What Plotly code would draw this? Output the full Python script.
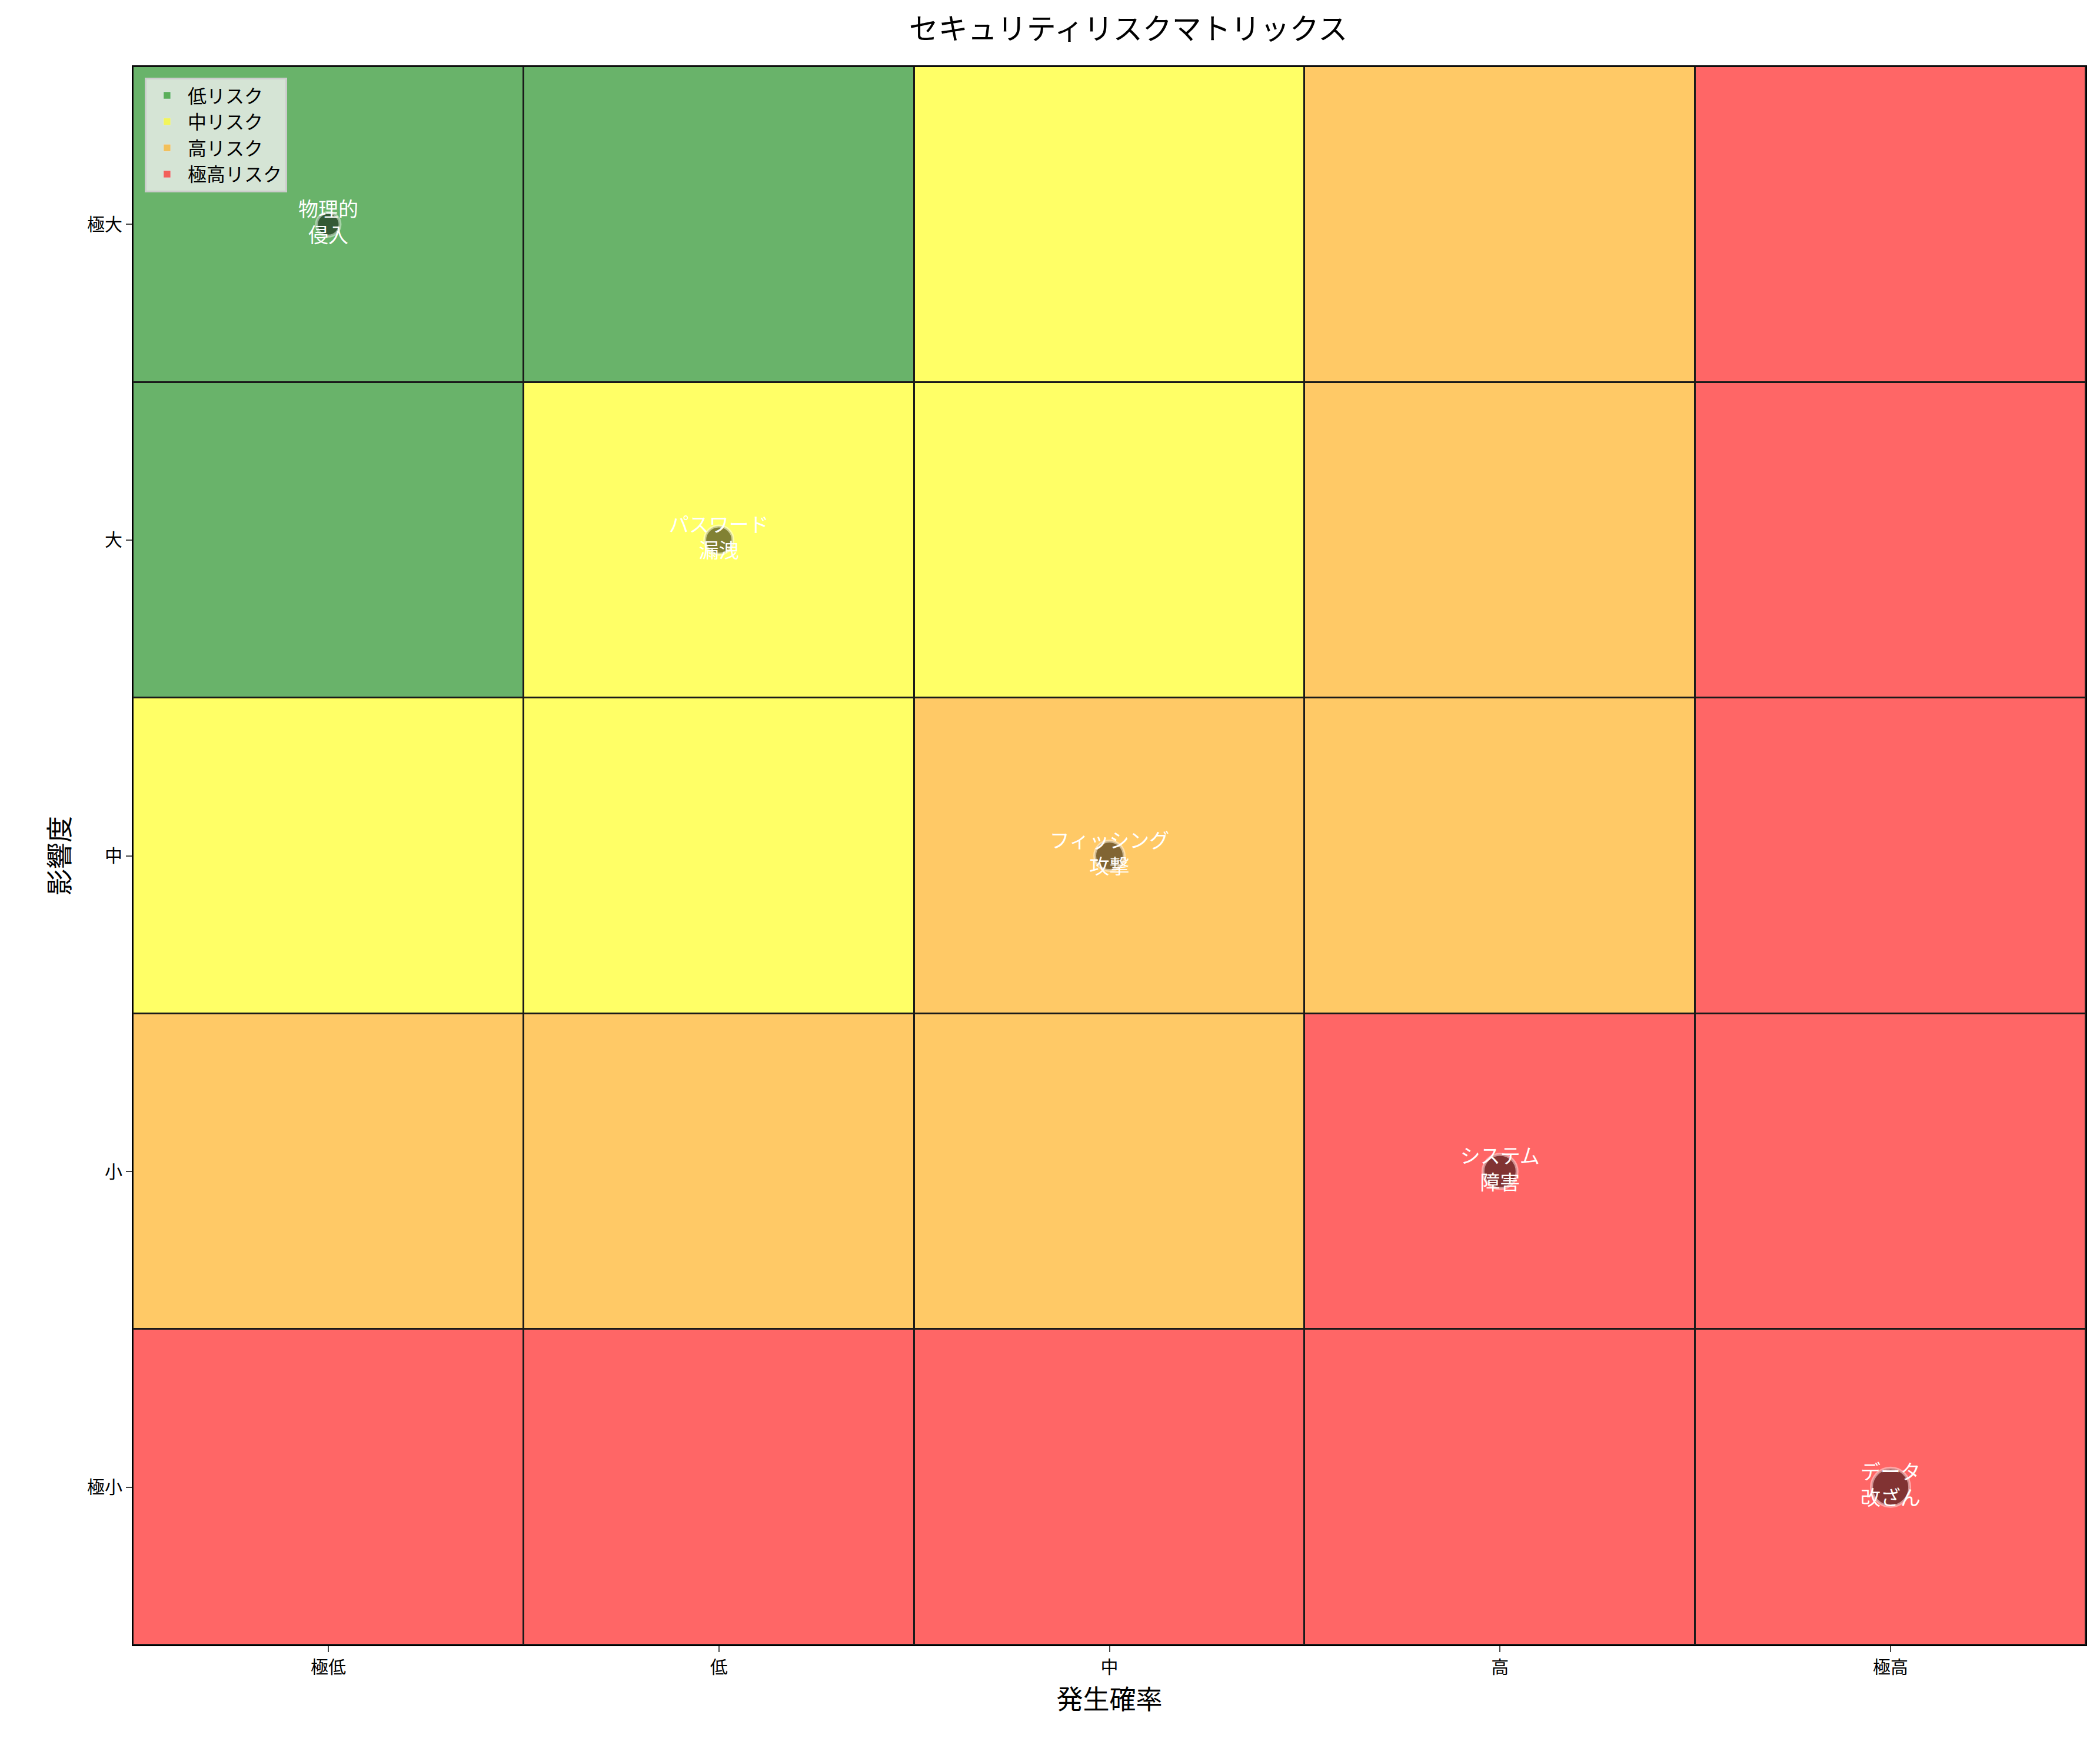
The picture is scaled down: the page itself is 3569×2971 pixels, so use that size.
import plotly.graph_objects as go

prob_labels = ["極低", "低", "中", "高", "極高"]
impact_labels = ["極小", "小", "中", "大", "極大"]
# risk level per [impact row][prob col], rows bottom(極小)->top(極大); 0 low,1 mid,2 high,3 extreme
risk_levels = [
    [3, 3, 3, 3, 3],
    [2, 2, 2, 3, 3],
    [1, 1, 2, 2, 3],
    [0, 1, 1, 2, 3],
    [0, 0, 1, 2, 3],
]
level_names = ["低リスク", "中リスク", "高リスク", "極高リスク"]
level_colors = ["#69B36A", "#FFFF66", "#FFC966", "#FF6666"]
legend_colors = ["#5AAF5A", "#F2F55A", "#F2C05A", "#F2605A"]

risk_names = ["物理的<br>侵入", "パスワード<br>漏洩", "フィッシング<br>攻撃", "システム<br>障害", "データ<br>改ざん"]
risk_prob = [0, 1, 2, 3, 4]
risk_impact = [4, 3, 2, 1, 0]
risk_size = [40, 48, 50, 58, 65]

FONT = "Noto Sans CJK JP"
fig = go.Figure()

cs = []
for i, c in enumerate(level_colors):
    cs.append([i / 4, c]); cs.append([(i + 1) / 4, c])
fig.add_trace(go.Heatmap(z=risk_levels, x=list(range(5)), y=list(range(5)),
                         zmin=-0.5, zmax=3.5, colorscale=[[p if p < 1 else 1, c] for p, c in cs],
                         showscale=False, xgap=3, ygap=3, hoverinfo="skip"))

for name, c in zip(level_names, legend_colors):
    fig.add_trace(go.Bar(x=[None], y=[None], name=name, marker_color=c, showlegend=True))

fig.add_trace(go.Scatter(x=risk_prob, y=risk_impact, mode="markers+text",
                         text=risk_names, textposition="middle center",
                         textfont=dict(color="white", size=34, family=FONT),
                         marker=dict(size=risk_size, color="rgba(0,0,0,0.7)",
                                     line=dict(color="rgba(255,255,255,0.6)", width=5)),
                         showlegend=False))

fig.update_layout(
    width=3569, height=2971, paper_bgcolor="white", plot_bgcolor="#1a1a1a",
    margin=dict(l=218, r=32, t=105, b=183),
    font=dict(family=FONT, size=30, color="black"),
    title=dict(text="セキュリティリスクマトリックス", x=0.535, xanchor="center", y=0.992, yanchor="top",
               font=dict(size=50)),
    legend=dict(x=0.006, y=0.993, xanchor="left", yanchor="top",
                bgcolor="rgba(240,240,240,0.8)", bordercolor="#cccccc", borderwidth=3,
                font=dict(size=32), itemwidth=60),
    xaxis=dict(range=[-0.5, 4.5], tickvals=list(range(5)), ticktext=prob_labels,
               ticks="outside", ticklen=10, tickwidth=2, showgrid=False, zeroline=False,
               showline=True, linecolor="black", linewidth=2, mirror=True,
               title=dict(text="発生確率", font=dict(size=45))),
    yaxis=dict(range=[-0.5, 4.5], tickvals=list(range(5)), ticktext=impact_labels,
               ticks="outside", ticklen=10, tickwidth=2, showgrid=False, zeroline=False,
               showline=True, linecolor="black", linewidth=2, mirror=True,
               title=dict(text="影響度", font=dict(size=45))),
)
fig.write_html("out.html")
